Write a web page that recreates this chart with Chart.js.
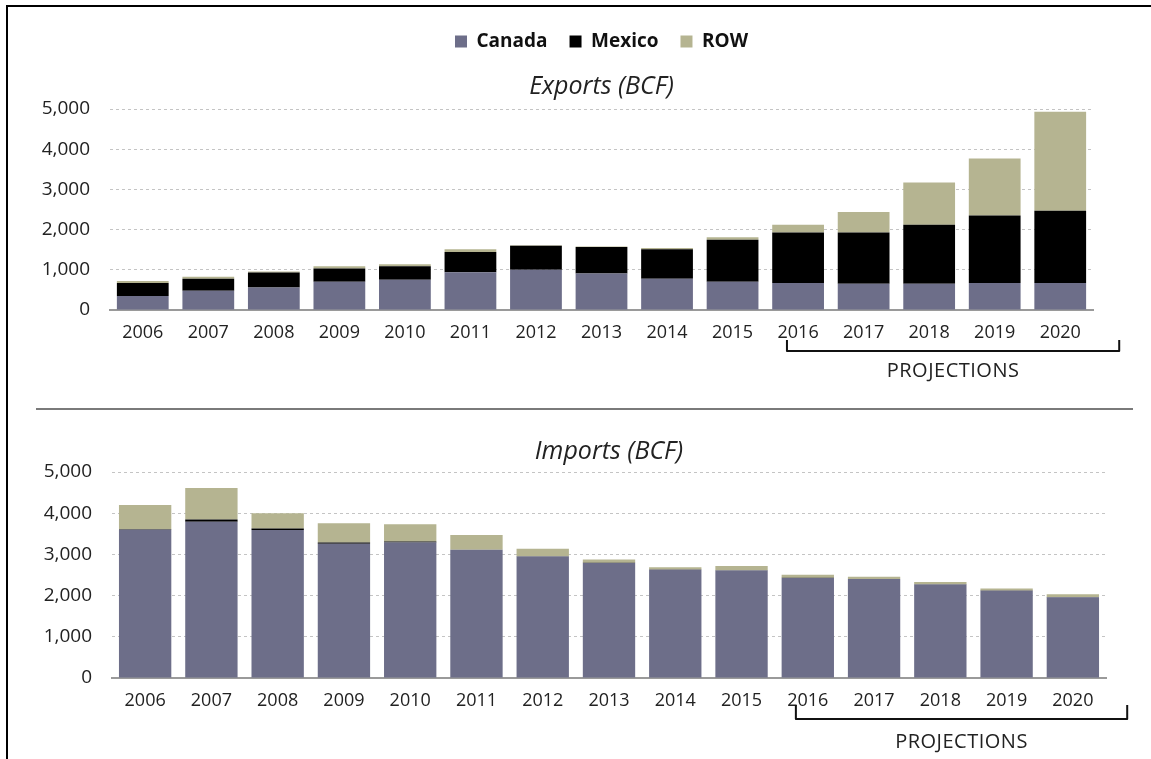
<!DOCTYPE html>
<html>
<head>
<meta charset="utf-8">
<script src="https://cdn.jsdelivr.net/npm/chart.js@4.4.1/dist/chart.umd.min.js"></script>
<style>
  body { margin: 0; background: #fff; width: 1151px; height: 759px; overflow: hidden; position: relative; font-family: "Open Sans", sans-serif; }
  .frameTop { position: absolute; left: 6px; top: 5px; width: 1145px; height: 2px; background: #000; }
  .frameLeft { position: absolute; left: 6px; top: 5px; width: 2px; height: 754px; background: #000; }
  .sep { position: absolute; left: 36px; top: 408px; width: 1097px; height: 2px; background: #7a7a7a; }
  #exportsBox { position: absolute; left: 0; top: 0; width: 1151px; height: 400px; }
  #importsBox { position: absolute; left: 0; top: 410px; width: 1151px; height: 349px; }
</style>
</head>
<body>
<div class="frameTop"></div>
<div class="frameLeft"></div>
<div class="sep"></div>
<div id="exportsBox"><canvas id="exportsChart"></canvas></div>
<div id="importsBox"><canvas id="importsChart"></canvas></div>
<script>
const years = ['2006', '2007', '2008', '2009', '2010', '2011', '2012', '2013', '2014', '2015', '2016', '2017', '2018', '2019', '2020'];

// Exports (BCF)
const exportsCanada = [350, 480, 560, 700, 750, 940, 1000, 910, 780, 700, 670, 650, 650, 670, 670];
const exportsMexico = [320, 300, 375, 335, 340, 500, 600, 660, 730, 1050, 1260, 1280, 1470, 1680, 1800];
const exportsROW = [50, 50, 25, 55, 50, 70, 10, 10, 35, 60, 190, 510, 1050, 1420, 2460];

// Imports (BCF)
const importsCanada = [3600, 3790, 3590, 3260, 3290, 3110, 2950, 2790, 2630, 2610, 2430, 2400, 2270, 2120, 1960];
const importsMexico = [10, 60, 40, 30, 25, 5, 5, 5, 5, 5, 5, 5, 5, 5, 5];
const importsROW = [590, 760, 370, 465, 415, 355, 180, 80, 55, 105, 70, 50, 55, 45, 70];

const COLOR_CANADA = '#6d6e89';
const COLOR_MEXICO = '#000000';
const COLOR_ROW = '#b5b491';
const FONT = '"Open Sans", sans-serif';

// draws the "PROJECTIONS" bracket under the x axis
const projBracket = {
  id: 'projBracket',
  afterDraw(chart, args, opts) {
    const { ctx, scales: { x }, chartArea } = chart;
    const w = x.getPixelForValue(1) - x.getPixelForValue(0);
    const left = x.getPixelForValue(opts.from) - w * opts.leftOff;
    const right = x.getPixelForValue(opts.to) + w * opts.rightOff;
    const y1 = chartArea.bottom + opts.y1;
    const y2 = chartArea.bottom + opts.y2;
    ctx.save();
    ctx.strokeStyle = '#111';
    ctx.lineWidth = 2;
    ctx.lineJoin = 'round';
    ctx.beginPath();
    ctx.moveTo(left, y1);
    ctx.lineTo(left, y2);
    ctx.lineTo(right, y2);
    ctx.lineTo(right, y1);
    ctx.stroke();
    ctx.fillStyle = '#222';
    ctx.font = '20px ' + FONT;
    ctx.letterSpacing = '0.5px';
    ctx.textAlign = 'center';
    ctx.textBaseline = 'middle';
    ctx.fillText('PROJECTIONS', (left + right) / 2, chartArea.bottom + opts.textY);
    ctx.restore();
  }
};

function makeChart(id, title, canada, mexico, row, opts) {
  return new Chart(document.getElementById(id), {
    type: 'bar',
    data: {
      labels: years,
      datasets: [
        { label: 'Canada', data: canada, backgroundColor: COLOR_CANADA },
        { label: 'Mexico', data: mexico, backgroundColor: COLOR_MEXICO },
        { label: 'ROW', data: row, backgroundColor: COLOR_ROW }
      ]
    },
    options: {
      responsive: true,
      maintainAspectRatio: false,
      animation: false,
      barPercentage: 0.79,
      categoryPercentage: 1.0,
      layout: { padding: { top: opts.padTop, right: opts.padRight, left: 0, bottom: 0 } },
      plugins: {
        legend: {
          display: opts.legend,
          weight: 3000,
          fullSize: false,
          labels: {
            boxWidth: 12, boxHeight: 12, padding: 22,
            color: '#111',
            font: { family: FONT, size: 19, weight: 'bold' }
          }
        },
        title: {
          display: true,
          fullSize: false,
          text: title,
          color: '#222',
          font: { family: FONT, size: 25, style: 'italic', weight: 'normal' },
          padding: { top: opts.titleTop, bottom: opts.titleBottom }
        },
        tooltip: { enabled: false },
        projBracket: opts.bracket
      },
      scales: {
        x: {
          stacked: true,
          grid: { display: false, drawTicks: false },
          border: { display: true, color: '#9a9a9a', width: 2 },
          ticks: { color: '#222', padding: 12, font: { family: FONT, size: 18 } },
          afterFit: s => { s.height = opts.xHeight; }
        },
        y: {
          stacked: true,
          min: 0,
          max: 5000,
          grid: { color: '#c4c4c4', drawTicks: false },
          border: { display: false, dash: [3, 3] },
          ticks: {
            stepSize: 1000,
            color: '#222',
            padding: opts.yPad,
            font: { family: FONT, size: 19 },
            callback: v => v.toLocaleString('en-US')
          },
          afterFit: s => { s.width = opts.yWidth; }
        }
      }
    },
    plugins: [projBracket]
  });
}

makeChart('exportsChart', 'Exports (BCF)', exportsCanada, exportsMexico, exportsROW, {
  legend: true, padTop: 10, padRight: 58, titleTop: 11, titleBottom: 7,
  xHeight: 90, yWidth: 110, yPad: 20,
  bracket: { from: 10, to: 14, leftOff: 0.17, rightOff: 0.9, y1: 30, y2: 41, textY: 61 }
});

makeChart('importsChart', 'Imports (BCF)', importsCanada, importsMexico, importsROW, {
  legend: false, padTop: 19, padRight: 45, titleTop: 8, titleBottom: 5,
  xHeight: 81, yWidth: 112, yPad: 20,
  bracket: { from: 10, to: 14, leftOff: 0.18, rightOff: 0.82, y1: 27, y2: 41, textY: 64 }
});
</script>
</body>
</html>
